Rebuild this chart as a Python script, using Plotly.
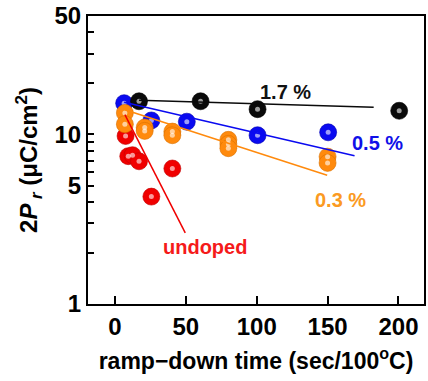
import math
import plotly.graph_objects as go

# ---- data ----
undoped_x = [7.5, 9.4, 12.4, 17, 25.7, 40.5]
undoped_y = [9.8, 7.45, 7.55, 6.95, 4.3, 6.3]
p03_x = [7, 7, 21, 21, 40.5, 40.5, 80, 80, 80, 150, 150]
p03_y = [13.4, 11.5, 11.0, 10.5, 10.4, 9.9, 9.3, 8.8, 8.3, 7.4, 6.8]
p05_x = [6.5, 25.7, 50.7, 100.6, 150.4]
p05_y = [15.3, 12.1, 11.9, 9.9, 10.3]
p17_x = [17, 60.4, 100.6, 200.5]
p17_y = [15.7, 15.7, 14.1, 13.8]

# fitted guide lines (endpoints)
fit_undoped_x = [7, 49.6]
fit_undoped_y = [13.1, 2.63]
fit_p03_x = [7, 149.7]
fit_p03_y = [14.0, 5.75]
fit_p05_x = [6.5, 169]
fit_p05_y = [15.5, 7.5]
fit_p17_x = [17, 182.5]
fit_p17_y = [15.9, 14.5]

labels = ["undoped", "0.3 %", "0.5 %", "1.7 %"]
label_x = [63.5, 159, 185, 120.5]
label_y = [2.17, 4.12, 8.86, 17.9]

x_ticks = [0, 50, 100, 150, 200]
y_ticks = [1, 5, 10, 50]
y_minor = [2, 3, 4, 6, 7, 8, 9, 20, 30, 40]

colors = {"undoped": "#f00000", "0.3 %": "#ff8a0d", "0.5 %": "#0a0af0", "1.7 %": "#0a0a0a"}
label_colors = {"undoped": "#f51a1a", "0.3 %": "#fb9a22", "0.5 %": "#1010e8", "1.7 %": "#111111"}
edge_colors = {"undoped": "#c00000", "0.3 %": "#d87000", "0.5 %": "#0000b0", "1.7 %": "#000000"}

FONT = "Liberation Sans, Arial, sans-serif"

fig = go.Figure()

series = [
    ("undoped", undoped_x, undoped_y, fit_undoped_x, fit_undoped_y),
    ("0.5 %", p05_x, p05_y, fit_p05_x, fit_p05_y),
    ("1.7 %", p17_x, p17_y, fit_p17_x, fit_p17_y),
    ("0.3 %", p03_x, p03_y, fit_p03_x, fit_p03_y),
]

for name, xs, ys, fx, fy in series:
    c = colors[name]
    fig.add_trace(go.Scatter(x=xs, y=ys, mode="markers",
                             marker=dict(size=17, color=c,
                                         line=dict(color=edge_colors[name], width=0.6)),
                             showlegend=False, hoverinfo="skip"))
    fig.add_trace(go.Scatter(x=xs, y=ys, mode="markers",
                             marker=dict(size=5, color="rgba(255,255,255,0.6)",
                                         line=dict(width=0)),
                             showlegend=False, hoverinfo="skip"))

for name, xs, ys, fx, fy in series:
    fig.add_trace(go.Scatter(x=fx, y=fy, mode="lines",
                             line=dict(color=colors[name], width=1.5),
                             showlegend=False, hoverinfo="skip"))

for t, lx, ly in zip(labels, label_x, label_y):
    fig.add_annotation(x=lx, y=math.log10(ly), xref="x", yref="y", text=t,
                       showarrow=False,
                       font=dict(family=FONT, size=20, color=label_colors[t], weight="bold"))

fig.update_xaxes(range=[-19, 218], tickvals=x_ticks, ticks="inside", ticklen=8,
                 tickwidth=2, tickcolor="black", showline=True, linewidth=2,
                 linecolor="black", mirror=True, showgrid=False, zeroline=False,
                 tickfont=dict(family=FONT, size=24, color="black", weight="bold"),
                 title=dict(text="ramp−down time (sec/100<sup>o</sup>C)",
                            font=dict(family=FONT, size=23, color="black", weight="bold"),
                            standoff=14))
fig.update_yaxes(type="log", range=[0, math.log10(50)], tickvals=y_ticks,
                 ticktext=[str(v) for v in y_ticks],
                 ticks="inside", ticklen=6, tickwidth=2, tickcolor="black",
                 minor=dict(tickvals=y_minor, ticks="inside", ticklen=6, tickwidth=2,
                            tickcolor="black", showgrid=False),
                 showline=True, linewidth=2, linecolor="black", mirror=True,
                 showgrid=False, zeroline=False,
                 tickfont=dict(family=FONT, size=24, color="black", weight="bold"),
                 title=dict(text="2<i>P</i><sub> <i>r</i></sub> (μC/cm<sup>2</sup>)",
                            font=dict(family=FONT, size=24, color="black", weight="bold"),
                            standoff=10))

fig.update_layout(width=428, height=381, margin=dict(l=88, r=2, t=14, b=77),
                  paper_bgcolor="white", plot_bgcolor="white")

fig.write_html("out.html")
